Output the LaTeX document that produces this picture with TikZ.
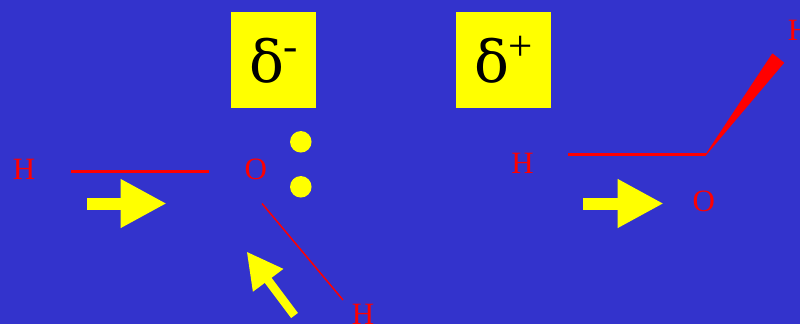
\documentclass[tikz,border=0pt]{standalone}
\usepackage{fontspec}
\setmainfont{Liberation Serif}
\newfontfamily\deltafont{DejaVu Serif}
\usetikzlibrary{arrows.meta}
\definecolor{WaterBack}{HTML}{3333CC}
\definecolor{WaterYellow}{HTML}{FFFF00}
\definecolor{WaterRed}{HTML}{FF0000}
\newcommand{\chargeMark}[1]{{\deltafont\fontsize{58}{58}\selectfont δ}\hspace{-1.5pt}\raisebox{22.5pt}{\fontsize{43}{43}\selectfont #1}}

\begin{document}
\begin{tikzpicture}[
    x=1pt,y=-1pt,
    atom/.style={
      inner sep=0pt,
      text=WaterRed,
      font=\fontsize{31}{31}\selectfont
    },
    charge/.style={
      fill=WaterYellow,
      inner sep=0pt,
      minimum height=96pt,
      text height=57pt,
      text depth=12pt,
      text=black
    },
    lonepair/.style={
      circle,
      fill=WaterYellow,
      inner sep=0pt,
      minimum size=21.5pt
    },
    bond/.style={draw=WaterRed,line width=3pt},
    thinbond/.style={draw=WaterRed,line width=1.5pt},
    midbond/.style={draw=WaterRed,line width=2.2pt},
    bigarrow/.style={-{Triangle[length=46pt,width=45.5pt]},line width=12pt,draw=WaterYellow},
    slimarrow/.style={-{Triangle[length=36pt,width=35.5pt]},line width=8.5pt,draw=WaterYellow}
  ]
    \path[use as bounding box,fill=WaterBack] (0,0) rectangle (800,324);
    \node[charge,minimum width=85pt] (minus) at (273.5,60) {\chargeMark{-}};
    \node[charge,minimum width=95pt] (plus) at (503.5,60) {\chargeMark{+}};
    \node[atom] (hleft) at (24,169) {H};
    \node[atom] (oleft) at (255.7,169) {O};
    \node[atom] (hlow) at (363,314) {H};
    \node[atom] (hmid) at (522.5,163.5) {H};
    \node[atom] (oright) at (703.7,201) {O};
    \node[atom] (htop) at (799,30) {H};
    \node[lonepair] (dotup) at (300.8,141.8) {};
    \node[lonepair] (dotdown) at (300.8,186.8) {};
    % bond ends and arrow ends
    \coordinate (hleftend) at (71,171.5);
    \coordinate (oleftend) at (209,171.5);
    \coordinate (olowend) at (262,203.5);
    \coordinate (hlowend) at (343,300);
    \coordinate (hmidend) at (568,154.5);
    \coordinate (bend) at (706,154.5);
    \coordinate (wedgea) at (772.5,54);
    \coordinate (wedgeb) at (783.5,62.8);
    \coordinate (taila) at (87,203.5);
    \coordinate (tipa) at (166.7,203.5);
    \coordinate (tailb) at (583,203.5);
    \coordinate (tipb) at (663.7,203.5);
    \coordinate (tailc) at (294.5,315.5);
    \coordinate (tipc) at (246.6,251.5);
    \draw[bond] (hleftend) -- (oleftend);
    \draw[thinbond] (olowend) -- (hlowend);
    \draw[midbond] (hmidend) -- (bend);
    \filldraw[WaterRed,line width=1pt,line join=round] (bend) -- (wedgea) -- (wedgeb) -- cycle;
    \foreach \a/\b in {taila/tipa,tailb/tipb}
      \draw[bigarrow] (\a) -- (\b);
    \draw[slimarrow] (tailc) -- (tipc);
  \end{tikzpicture}
\end{document}
